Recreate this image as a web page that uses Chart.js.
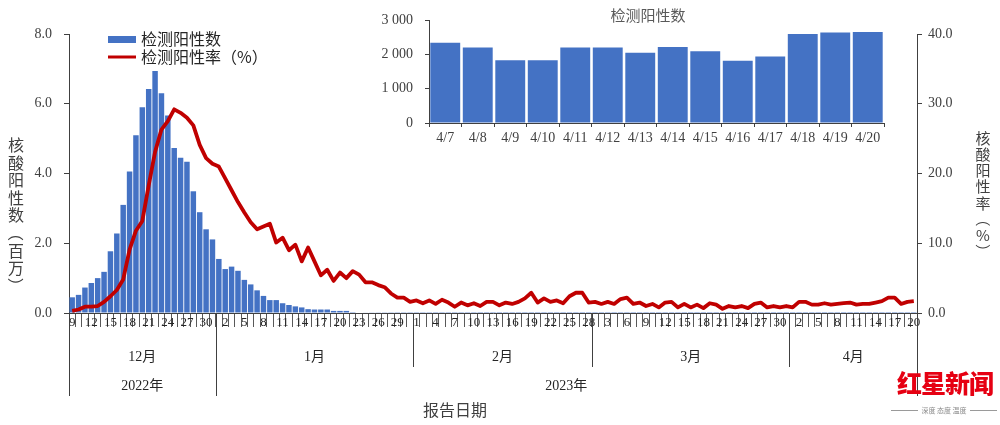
<!DOCTYPE html>
<html>
<head>
<meta charset="utf-8">
<script src="https://cdn.jsdelivr.net/npm/chart.js@4.4.1/dist/chart.umd.min.js"></script>
<style>
  body { margin: 0; background: #fff; }
  #wrap { position: relative; width: 1000px; height: 425px; background: #fff; overflow: hidden; }
  #main { position: absolute; left: 0; top: 0; }
  #inset { position: absolute; left: 360px; top: 0; }
  #logo { position: absolute; left: 890px; top: 366px; width: 110px; text-align: center;
          color: #e60012; font: 900 25px "Noto Sans CJK SC"; line-height: 32px; letter-spacing: -1px; }
  #slogan { position: absolute; left: 888px; top: 405px; width: 112px; display: flex; align-items: center;
            justify-content: center; font: 7px "Noto Sans CJK SC"; color: #8c8c8c; }
  #slogan .ln { flex: 1; border-top: 1px solid #9a9a9a; margin: 0 3px; }
</style>
</head>
<body>
<div id="wrap">
  <canvas id="main" width="1000" height="425"></canvas>
  <canvas id="inset" width="530" height="150"></canvas>
  <div id="logo">红星新闻</div>
  <div id="slogan"><span class="ln"></span>深度 态度 温度<span class="ln"></span></div>
</div>
<script>
// months on the x axis (Dec 9 2022 .. Apr 20 2023)
const monthNames = ['12月', '1月', '2月', '3月', '4月'];
const monthYears = ['2022年', '2023年', '2023年', '2023年', '2023年'];
const monthFirstDay = [9, 1, 1, 1, 1];
const monthLastDay = [31, 31, 28, 31, 20];

// positives, millions
const posDec = [0.45, 0.52, 0.73, 0.86, 1.00, 1.18, 1.77, 2.28, 3.10, 4.06, 5.10, 5.90, 6.42, 6.94, 6.30, 5.66, 4.73, 4.45, 4.34, 3.49, 2.89, 2.40, 2.11];
const posJan = [1.55, 1.26, 1.33, 1.21, 0.95, 0.82, 0.65, 0.49, 0.37, 0.37, 0.28, 0.23, 0.19, 0.16, 0.11, 0.10, 0.10, 0.10, 0.06, 0.06, 0.06, 0.025, 0.015, 0.012, 0.010, 0.009, 0.008, 0.007, 0.006, 0.006, 0.005];
const posFeb = [0.005, 0.005, 0.005, 0.004, 0.004, 0.004, 0.004, 0.004, 0.004, 0.004, 0.003, 0.003, 0.003, 0.003, 0.003, 0.003, 0.003, 0.003, 0.003, 0.003, 0.003, 0.003, 0.003, 0.003, 0.003, 0.003, 0.003, 0.003];
const posMar = [0.003, 0.003, 0.003, 0.003, 0.003, 0.003, 0.003, 0.003, 0.003, 0.003, 0.003, 0.003, 0.003, 0.003, 0.003, 0.002, 0.002, 0.002, 0.002, 0.002, 0.002, 0.002, 0.002, 0.002, 0.002, 0.002, 0.002, 0.002, 0.002, 0.002, 0.002];
const posApr1to6 = [0.0022, 0.0021, 0.0023, 0.0022, 0.0020, 0.0021];

// positivity rate, %
const rateDec = [0.3, 0.5, 0.9, 0.9, 1.0, 1.6, 2.4, 3.3, 4.8, 9.1, 11.8, 13.2, 18.3, 23.1, 26.3, 27.5, 29.2, 28.7, 28.0, 26.9, 24.1, 22.2, 21.4];
const rateJan = [21.0, 19.3, 17.6, 15.9, 14.4, 13.0, 12.0, 12.4, 12.8, 10.1, 10.8, 9.0, 9.8, 7.4, 9.4, 7.4, 5.4, 6.2, 4.6, 5.8, 5.0, 6.0, 5.5, 4.4, 4.4, 4.0, 3.7, 2.8, 2.2, 2.2, 1.6];
const rateFeb = [1.8, 1.4, 1.8, 1.3, 1.9, 1.5, 0.9, 1.5, 1.1, 1.4, 1.0, 1.6, 1.6, 1.1, 1.5, 1.3, 1.6, 2.1, 2.9, 1.5, 2.1, 1.6, 1.8, 1.4, 2.4, 2.9, 2.9, 1.5];
const rateMar = [1.6, 1.3, 1.6, 1.3, 2.0, 2.2, 1.3, 1.5, 1.0, 1.3, 0.8, 1.5, 1.6, 0.8, 1.3, 0.8, 1.2, 0.7, 1.4, 1.2, 0.6, 1.0, 0.8, 1.0, 0.7, 1.3, 1.5, 0.8, 1.0, 0.8, 1.0];
const rateApr = [0.8, 1.6, 1.6, 1.2, 1.2, 1.4, 1.2, 1.3, 1.4, 1.5, 1.2, 1.3, 1.3, 1.5, 1.7, 2.2, 2.2, 1.3, 1.6, 1.7];

// inset: positives Apr 7 - Apr 20
const insetDates = ['4/7', '4/8', '4/9', '4/10', '4/11', '4/12', '4/13', '4/14', '4/15', '4/16', '4/17', '4/18', '4/19', '4/20'];
const insetCounts = [2347, 2206, 1836, 1836, 2206, 2206, 2056, 2222, 2095, 1817, 1942, 2603, 2646, 2664];

const BLUE = '#4472C4';
const RED = '#C00000';
const TXT = '#404040';
const SERIF = '"Liberation Serif", "Noto Sans CJK SC", serif';
const SANS = '"Noto Sans CJK SC", sans-serif';

// day labels + month start indexes
const dayLabels = [];
const monthStart = [];
monthNames.forEach((m, k) => {
  monthStart.push(dayLabels.length);
  for (let d = monthFirstDay[k]; d <= monthLastDay[k]; d++) dayLabels.push(String(d));
});
monthStart.push(dayLabels.length);

const positives = posDec.concat(posJan, posFeb, posMar, posApr1to6, insetCounts.map(v => v / 1e6));
const rates = rateDec.concat(rateJan, rateFeb, rateMar, rateApr);

// stacked vertical title; brackets turned 90deg like vertical text
function verticalTitle(ctx, chars, x, y0, step) {
  chars.forEach((c, i) => {
    const y = y0 + i * step;
    if (c === '（' || c === '）') {
      ctx.save();
      ctx.translate(x, y);
      ctx.rotate(Math.PI / 2);
      ctx.fillText(c, 0, 0);
      ctx.restore();
    } else {
      ctx.fillText(c, x, y);
    }
  });
}

const extras = {
  id: 'extras',
  afterDraw(chart) {
    const ctx = chart.ctx;
    const x = chart.scales.x;
    const area = chart.chartArea;
    const n = dayLabels.length;
    const cw = (x.right - x.left) / n;
    const edge = i => x.left + i * cw;
    ctx.save();

    // month / year separators
    ctx.strokeStyle = '#404040';
    ctx.lineWidth = 1;
    monthStart.forEach((s, k) => {
      const yearEdge = k === 0 || k === monthStart.length - 1 || monthYears[k] !== monthYears[k - 1];
      const px = Math.round(edge(s)) + 0.5;
      ctx.beginPath();
      ctx.moveTo(px, area.bottom);
      ctx.lineTo(px, yearEdge ? 396 : 367);
      ctx.stroke();
    });

    ctx.fillStyle = '#262626';
    ctx.textAlign = 'center';
    ctx.textBaseline = 'middle';
    ctx.font = '14px ' + SERIF;
    monthNames.forEach((m, k) => {
      ctx.fillText(m, (edge(monthStart[k]) + edge(monthStart[k + 1])) / 2, 357);
    });
    // year labels
    let k0 = 0;
    for (let k = 1; k <= monthNames.length; k++) {
      if (k === monthNames.length || monthYears[k] !== monthYears[k0]) {
        ctx.fillText(monthYears[k0], (edge(monthStart[k0]) + edge(monthStart[k])) / 2, 386);
        k0 = k;
      }
    }

    // x title
    ctx.fillStyle = TXT;
    ctx.font = '16px ' + SANS;
    ctx.fillText('报告日期', 455, 410);

    // vertical axis titles
    ctx.font = '16px ' + SANS;
    verticalTitle(ctx, ['核', '酸', '阳', '性', '数', '（', '百', '万', '）'], 16, 145, 17.6);
    ctx.font = '15px ' + SANS;
    verticalTitle(ctx, ['核', '酸', '阳', '性', '率', '（', '%', '）'], 983, 138, 16.2);

    // legend
    ctx.fillStyle = BLUE;
    ctx.fillRect(108, 36, 28, 7);
    ctx.strokeStyle = RED;
    ctx.lineWidth = 3;
    ctx.beginPath();
    ctx.moveTo(108, 57);
    ctx.lineTo(136, 57);
    ctx.stroke();
    ctx.fillStyle = '#262626';
    ctx.textAlign = 'left';
    ctx.font = '16px ' + SANS;
    ctx.fillText('检测阳性数', 141, 39);
    ctx.fillText('检测阳性率（%）', 141, 57);
    ctx.restore();
  }
};

new Chart(document.getElementById('main'), {
  data: {
    labels: dayLabels,
    datasets: [
      { type: 'line', label: '检测阳性率（%）', data: rates, yAxisID: 'y2', order: 0,
        borderColor: RED, borderWidth: 3.8, pointRadius: 0, tension: 0, borderJoinStyle: 'round' },
      { type: 'bar', label: '检测阳性数', data: positives, yAxisID: 'y', order: 1,
        backgroundColor: BLUE, barPercentage: 0.86, categoryPercentage: 1.0 }
    ]
  },
  options: {
    responsive: false,
    animation: false,
    devicePixelRatio: 1,
    layout: { padding: { top: 34, left: 0, right: 0, bottom: 0 } },
    plugins: { legend: { display: false }, tooltip: { enabled: false } },
    scales: {
      x: {
        offset: true,
        grid: { offset: true, drawOnChartArea: false, tickLength: 14, color: '#595959', lineWidth: 1 },
        border: { color: '#404040' },
        ticks: {
          autoSkip: false, maxRotation: 0, minRotation: 0, padding: -12,
          color: '#262626', font: { family: SERIF, size: 13 },
          callback: (v, i) => (i % 3 === 0 ? dayLabels[i] : '')
        },
        afterFit: s => { s.height = 112; }
      },
      y: {
        position: 'left', min: 0, max: 8,
        grid: { drawOnChartArea: false, tickLength: 5, color: '#404040' },
        border: { color: '#404040' },
        ticks: { stepSize: 2, padding: 12, color: TXT, font: { family: SERIF, size: 14 },
                 callback: v => v.toFixed(1) },
        afterFit: s => { s.width = 69; }
      },
      y2: {
        position: 'right', min: 0, max: 40,
        grid: { drawOnChartArea: false, tickLength: 5, color: '#404040' },
        border: { color: '#404040' },
        ticks: { stepSize: 10, padding: 6, color: TXT, font: { family: SERIF, size: 14 },
                 callback: v => v.toFixed(1) },
        afterFit: s => { s.width = 83; }
      }
    }
  },
  plugins: [extras]
});

const insetTitle = {
  id: 'insetTitle',
  afterDraw(chart) {
    const ctx = chart.ctx;
    ctx.save();
    ctx.fillStyle = '#595959';
    ctx.font = '15px ' + SANS;
    ctx.textAlign = 'center';
    ctx.textBaseline = 'middle';
    ctx.fillText('检测阳性数', 288, 15);
    ctx.restore();
  }
};

new Chart(document.getElementById('inset'), {
  type: 'bar',
  data: {
    labels: insetDates,
    datasets: [{ data: insetCounts, backgroundColor: BLUE, barPercentage: 0.92, categoryPercentage: 1.0 }]
  },
  options: {
    responsive: false,
    animation: false,
    devicePixelRatio: 1,
    layout: { padding: { top: 9, left: 0, right: 6, bottom: 0 } },
    plugins: { legend: { display: false }, tooltip: { enabled: false } },
    scales: {
      x: {
        grid: { offset: true, drawOnChartArea: false, tickLength: 4, color: '#404040' },
        border: { color: '#404040' },
        ticks: { maxRotation: 0, autoSkip: false, padding: 3, color: TXT, font: { family: SERIF, size: 14 } },
        afterFit: s => { s.height = 27; }
      },
      y: {
        min: 0, max: 3000,
        grid: { drawOnChartArea: false, tickLength: 4, color: '#404040' },
        border: { color: '#404040' },
        ticks: { stepSize: 1000, padding: 12, color: TXT, font: { family: SERIF, size: 14 },
                 callback: v => (v === 0 ? '0' : (v / 1000) + ' 000') },
        afterFit: s => { s.width = 69; }
      }
    }
  },
  plugins: [insetTitle]
});
</script>
</body>
</html>
